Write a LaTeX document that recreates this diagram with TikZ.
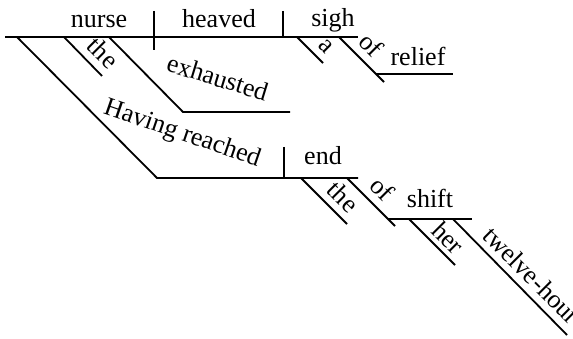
\documentclass[tikz,border=0pt]{standalone}
\usepackage{fontspec}
\setmainfont{Liberation Serif}
\begin{document}
\begin{tikzpicture}[x=1pt,y=-1pt,
  ln/.style={line width=1.8pt},
  wd/.style={font=\fontsize{26}{30}\selectfont, inner sep=0pt, anchor=base},
  dg/.style={wd, rotate=-45}]
\useasboundingbox (0,0) rectangle (573,339);
% coordinates
\coordinate (mL) at (5,37);
\coordinate (mR) at (358,37);
\coordinate (sv1) at (154,11);
\coordinate (sv2) at (154,50);
\coordinate (vo1) at (283,11);
\coordinate (vo2) at (283,37);
\coordinate (the1a) at (64,37);
\coordinate (the1b) at (102,76);
\coordinate (exa) at (109,37);
\coordinate (exb) at (183,112);
\coordinate (exc) at (290,112);
\coordinate (hra) at (17,37);
\coordinate (hrb) at (157,178);
\coordinate (hrc) at (358,178);
\coordinate (eo1) at (284,147);
\coordinate (eo2) at (284,178);
\coordinate (aa) at (297,37);
\coordinate (ab) at (323,63);
\coordinate (of1a) at (339,37);
\coordinate (of1b) at (384,82);
\coordinate (rla) at (376,74);
\coordinate (rlb) at (453,74);
\coordinate (the2a) at (301,178);
\coordinate (the2b) at (347,224);
\coordinate (of2a) at (347,178);
\coordinate (of2b) at (395,226);
\coordinate (sha) at (388,219);
\coordinate (shb) at (472,219);
\coordinate (hera) at (409,219);
\coordinate (herb) at (455,265);
\coordinate (twa) at (453,219);
\coordinate (twb) at (567,335);
% lines
\draw[ln] (mL) -- (mR);
\draw[ln] (sv1) -- (sv2);
\draw[ln] (vo1) -- (vo2);
\draw[ln] (the1a) -- (the1b);
\draw[ln] (exa) -- (exb) -- (exc);
\draw[ln] (hra) -- (hrb) -- (hrc);
\draw[ln] (eo1) -- (eo2);
\draw[ln] (aa) -- (ab);
\draw[ln] (of1a) -- (of1b);
\draw[ln] (rla) -- (rlb);
\draw[ln] (the2a) -- (the2b);
\draw[ln] (of2a) -- (of2b);
\draw[ln] (sha) -- (shb);
\draw[ln] (hera) -- (herb);
\draw[ln] (twa) -- (twb);
% words
\node[wd] (nurse) at (99,28) {nurse};
\node[wd] (heaved) at (219,28) {heaved};
\node[wd] (sigh) at (333,27) {sigh};
\node[wd] (relief) at (418,66) {relief};
\node[wd] (end) at (323,165) {end};
\node[wd] (shift) at (430,208) {shift};
\node[wd, rotate=-17] (exhausted) at (215,86) {exhausted};
\node[wd, rotate=-19] (having) at (180,140) {Having reached};
\node[dg] (the1) at (97,59) {the};
\node[dg] (a) at (322,51) {a};
\node[dg] (of1) at (365,51) {of};
\node[dg] (the2) at (337,203) {the};
\node[dg] (of2) at (376,195) {of};
\node[dg] (her) at (442,244) {her};
\node[dg, anchor=base west] (twelve) at (481,237) {twelve-hour};
\end{tikzpicture}
\end{document}
